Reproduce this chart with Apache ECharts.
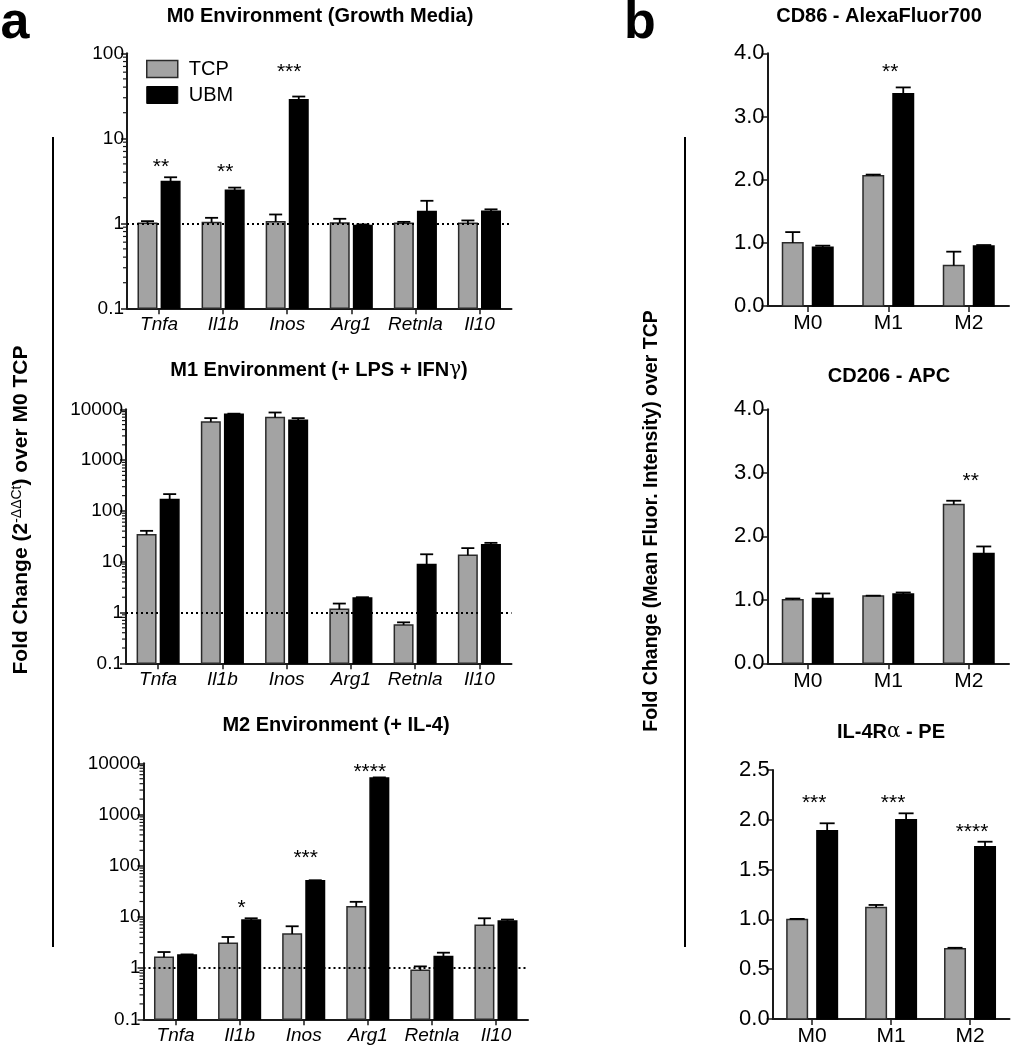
<!DOCTYPE html>
<html><head><meta charset="utf-8">
<script src="https://cdn.jsdelivr.net/npm/echarts@6/dist/echarts.min.js"></script>
<style>html,body{margin:0;padding:0;background:#fff}#c{width:1011px;height:1050px}</style>
</head><body><div id="c"></div>
<script>
// ---------- DATA ----------
const genes = ['Tnfa', 'Il1b', 'Inos', 'Arg1', 'Retnla', 'Il10'];
const states = ['M0', 'M1', 'M2'];
const groupNames = ['TCP', 'UBM'];

// Panel a – M0 environment (growth media)
const m0Tcp    = [1.0, 1.02, 1.04, 1.01, 1.0, 1.0];
const m0TcpErr = [1.06, 1.16, 1.27, 1.13, 1.04, 1.08];
const m0Ubm    = [3.1, 2.44, 28.5, 0.94, 1.38, 1.39];
const m0UbmErr = [3.48, 2.63, 31, 0.97, 1.84, 1.46];
const m0Sig    = ['**', '**', '***', '', '', ''];
const m0SigAt  = [5.4, 4.6, 70, null, null, null];

// Panel a – M1 environment (+LPS +IFNγ)
const m1Tcp    = [34, 5650, 6900, 1.16, 0.57, 13.4];
const m1TcpErr = [40.5, 6700, 8650, 1.5, 0.64, 18.5];
const m1Ubm    = [167, 8000, 6100, 1.94, 8.8, 21.5];
const m1UbmErr = [214, 8200, 6700, 2.0, 14, 23.5];
const m1Sig    = ['', '', '', '', '', ''];
const m1SigAt  = [null, null, null, null, null, null];

// Panel a – M2 environment (+IL-4)
const m2Tcp    = [1.62, 3.05, 4.64, 15.7, 0.91, 6.87];
const m2TcpErr = [2.06, 4.05, 6.56, 19.7, 1.08, 9.4];
const m2Ubm    = [1.80, 8.73, 50.8, 5150, 1.69, 8.35];
const m2UbmErr = [1.85, 9.4, 52, 5300, 2.0, 8.87];
const m2Sig    = ['', '*', '***', '****', '', ''];
const m2SigAt  = [null, 18.9, 180, 8500, null, null];

// Panel b – CD86
const cd86Tcp    = [1.0, 2.06, 0.64];
const cd86TcpErr = [1.17, 2.08, 0.86];
const cd86Ubm    = [0.93, 3.36, 0.95];
const cd86UbmErr = [0.955, 3.46, 0.965];
const cd86Sig    = ['', '**', ''];
const cd86SigAt  = [null, 3.79, null];

// Panel b – CD206
const cd206Tcp    = [1.0, 1.06, 2.5];
const cd206TcpErr = [1.02, 1.065, 2.56];
const cd206Ubm    = [1.02, 1.09, 1.73];
const cd206UbmErr = [1.10, 1.115, 1.84];
const cd206Sig    = ['', '', '**'];
const cd206SigAt  = [null, null, 2.95];

// Panel b – IL-4Rα
const il4Tcp    = [1.0, 1.12, 0.705];
const il4TcpErr = [1.005, 1.145, 0.715];
const il4Ubm    = [1.89, 2.0, 1.73];
const il4UbmErr = [1.965, 2.065, 1.78];
const il4Sig    = ['***', '***', '****'];
const il4SigAt  = [2.22, 2.22, 1.93];

// Tick labels
const logTicksSmall = ['0.1', '1', '10', '100'];
const logTicksLarge = ['0.1', '1', '10', '100', '1000', '10000'];
const mfiTicks4  = ['0.0', '1.0', '2.0', '3.0', '4.0'];
const mfiTicks25 = ['0.0', '0.5', '1.0', '1.5', '2.0', '2.5'];
const logMinorMultipliers = [2, 3, 4, 5, 6, 7, 8, 9];

// ---------- STYLE ----------
const FONT = '"Liberation Sans", Arial, Helvetica, sans-serif';
const GRAY = '#a3a3a3';
const EDGE = '#2a2a2a';
const AXIS = '#1a1a1a';
const geomA = { bw: 18.5, gap: 4.6, cap: 6.5, sigFont: 21 };
const geomB = { bw: 20.5, gap: 9.5, cap: 7.5, sigFont: 21 };

function barSeries(gi, vals, name, fill, stroke, side, g) {
  return {
    type: 'custom', name, xAxisIndex: gi, yAxisIndex: gi, z: 3, silent: true,
    itemStyle: { color: fill },
    data: vals.map((v, i) => [i, v]),
    renderItem(params, api) {
      const cs = params.coordSys;
      const p = api.coord([api.value(0), api.value(1)]);
      const cx = p[0] + side * (g.bw + g.gap) / 2;
      const bottom = cs.y + cs.height;
      return { type: 'rect',
        shape: { x: cx - g.bw / 2, y: p[1], width: g.bw, height: bottom - p[1] },
        style: { fill, stroke, lineWidth: 1.5 } };
    }
  };
}
function errSeries(gi, vals, errs, side, g) {
  return {
    type: 'custom', xAxisIndex: gi, yAxisIndex: gi, z: 4, silent: true,
    data: vals.map((v, i) => [i, v, errs[i]]),
    renderItem(params, api) {
      const i = api.value(0);
      const p0 = api.coord([i, api.value(1)]);
      const p1 = api.coord([i, api.value(2)]);
      const x = p0[0] + side * (g.bw + g.gap) / 2;
      const st = { stroke: '#000', lineWidth: 1.8 };
      return { type: 'group', children: [
        { type: 'line', shape: { x1: x, y1: p0[1], x2: x, y2: p1[1] }, style: st },
        { type: 'line', shape: { x1: x - g.cap, y1: p1[1], x2: x + g.cap, y2: p1[1] }, style: st }
      ] };
    }
  };
}
function sigSeries(gi, sig, sigAt, g) {
  const items = [];
  sig.forEach((s, i) => { if (s) items.push({ i, at: sigAt[i], text: s }); });
  return {
    type: 'custom', xAxisIndex: gi, yAxisIndex: gi, z: 5, silent: true,
    data: items.map(d => [d.i, d.at]),
    renderItem(params, api) {
      const p = api.coord([api.value(0), api.value(1)]);
      return { type: 'text', x: p[0] + 2, y: p[1] + 0.27 * g.sigFont,
        style: { text: items[params.dataIndex].text, fill: '#000',
          font: g.sigFont + 'px ' + FONT, align: 'center', verticalAlign: 'middle' } };
    }
  };
}
function minorTickSeries(gi, fromExp, toExp, withRefLine) {
  const vals = [];
  for (let e = fromExp; e < toExp; e++) logMinorMultipliers.forEach(m => vals.push(m * Math.pow(10, e)));
  const s = {
    type: 'custom', xAxisIndex: gi, yAxisIndex: gi, z: 1, silent: true,
    data: vals.map(v => [0, v]),
    renderItem(params, api) {
      const cs = params.coordSys;
      const y = api.coord([0, api.value(1)])[1];
      return { type: 'line', shape: { x1: cs.x - 4, y1: y, x2: cs.x, y2: y },
        style: { stroke: AXIS, lineWidth: 1.2 } };
    }
  };
  if (withRefLine) {
    s.markLine = { silent: true, symbol: 'none', label: { show: false }, animation: false,
      lineStyle: { type: [2, 3], color: '#000', width: 2.2, cap: 'butt' },
      data: [{ yAxis: 1 }] };
  }
  return s;
}
function panel(gi, tcp, tcpErr, ubm, ubmErr, sig, sigAt, g) {
  return [
    barSeries(gi, tcp, groupNames[0], GRAY, EDGE, -1, g),
    barSeries(gi, ubm, groupNames[1], '#000', '#000', 1, g),
    errSeries(gi, tcp, tcpErr, -1, g),
    errSeries(gi, ubm, ubmErr, 1, g),
    sigSeries(gi, sig, sigAt, g)
  ];
}

function xAxisCfg(gi, cats, italic, fontSize) {
  return { gridIndex: gi, type: 'category', data: cats, boundaryGap: true,
    axisLine: { show: true, lineStyle: { color: AXIS, width: 2 } },
    axisTick: { show: true, alignWithLabel: true, length: 6, lineStyle: { color: AXIS, width: 1.5 } },
    axisLabel: { color: '#000', fontSize, fontFamily: FONT, fontStyle: italic ? 'italic' : 'normal',
      margin: 7, interval: 0, hideOverlap: false },
    splitLine: { show: false } };
}
function logYAxis(gi, max, labels) {
  return { gridIndex: gi, type: 'log', logBase: 10, min: 0.1, max,
    axisLine: { show: true, lineStyle: { color: AXIS, width: 2 } },
    axisTick: { show: true, length: 6, lineStyle: { color: AXIS, width: 1.5 } },
    axisLabel: { color: '#000', fontSize: 19, fontFamily: FONT, margin: 3,
      formatter: v => labels[Math.round(Math.log10(v)) + 1] },
    splitLine: { show: false } };
}
function valYAxis(gi, max, interval, labels) {
  return { gridIndex: gi, type: 'value', min: 0, max, interval,
    axisLine: { show: true, lineStyle: { color: AXIS, width: 2 } },
    axisTick: { show: true, length: 6, lineStyle: { color: AXIS, width: 1.5 } },
    axisLabel: { color: '#000', fontSize: 22, fontFamily: FONT, margin: 3,
      formatter: v => labels[Math.round(v / interval)] },
    splitLine: { show: false } };
}

const grids = [
  { left: 127, top: 53.3, width: 384.5, height: 255 },
  { left: 126, top: 409.3, width: 385.5, height: 254 },
  { left: 143.5, top: 763.3, width: 384.5, height: 256 },
  { left: 767.5, top: 53.3, width: 241.5, height: 252.7 },
  { left: 767.5, top: 409.3, width: 241.5, height: 254 },
  { left: 772.7, top: 770, width: 236.8, height: 249 }
];

function txt(x, y, text, size, extra) {
  return Object.assign({ type: 'text', x, y, silent: true,
    style: { text, fill: '#000', font: 'bold ' + size + 'px ' + FONT, align: 'center', verticalAlign: 'middle' } }, extra || {});
}

const option = {
  animation: false,
  backgroundColor: '#fff',
  grid: grids,
  xAxis: [
    xAxisCfg(0, genes, true, 19), xAxisCfg(1, genes, true, 19), xAxisCfg(2, genes, true, 19),
    xAxisCfg(3, states, false, 21), xAxisCfg(4, states, false, 21), xAxisCfg(5, states, false, 21)
  ],
  yAxis: [
    logYAxis(0, 100, logTicksSmall), logYAxis(1, 10000, logTicksLarge), logYAxis(2, 10000, logTicksLarge),
    valYAxis(3, 4, 1, mfiTicks4), valYAxis(4, 4, 1, mfiTicks4), valYAxis(5, 2.5, 0.5, mfiTicks25)
  ],
  legend: {
    orient: 'vertical', left: 146, top: 59, padding: 0, itemWidth: 31, itemHeight: 17, itemGap: 6,
    selectedMode: false,
    textStyle: { fontSize: 20, color: '#000', fontFamily: FONT, padding: [0, 0, 0, 6] },
    data: [
      { name: groupNames[0], icon: 'rect', itemStyle: { color: GRAY, borderColor: EDGE, borderWidth: 1.5 } },
      { name: groupNames[1], icon: 'rect', itemStyle: { color: '#000', borderColor: '#000', borderWidth: 1 } }
    ]
  },
  series: [].concat(
    minorTickSeries(0, -1, 2, true),
    minorTickSeries(1, -1, 4, true),
    minorTickSeries(2, -1, 4, true),
    panel(0, m0Tcp, m0TcpErr, m0Ubm, m0UbmErr, m0Sig, m0SigAt, geomA),
    panel(1, m1Tcp, m1TcpErr, m1Ubm, m1UbmErr, m1Sig, m1SigAt, geomA),
    panel(2, m2Tcp, m2TcpErr, m2Ubm, m2UbmErr, m2Sig, m2SigAt, geomA),
    panel(3, cd86Tcp, cd86TcpErr, cd86Ubm, cd86UbmErr, cd86Sig, cd86SigAt, geomB),
    panel(4, cd206Tcp, cd206TcpErr, cd206Ubm, cd206UbmErr, cd206Sig, cd206SigAt, geomB),
    panel(5, il4Tcp, il4TcpErr, il4Ubm, il4UbmErr, il4Sig, il4SigAt, geomB)
  ),
  graphic: [
    txt(15, 24, 'a', 52),
    txt(640, 24, 'b', 52),
    txt(320, 16, 'M0 Environment (Growth Media)', 20),
    { type: 'text', x: 319, y: 370, silent: true,
      style: { text: 'M1 Environment (+ LPS + IFN{g|γ})', fill: '#000', font: 'bold 20px ' + FONT,
        align: 'center', verticalAlign: 'middle',
        rich: { g: { fontSize: 20, fontWeight: 'normal', fontFamily: 'DejaVu Serif' } } } },
    txt(336, 725, 'M2 Environment (+ IL-4)', 20),
    txt(879, 16, 'CD86 - AlexaFluor700', 20),
    txt(889, 376, 'CD206 - APC', 20),
    { type: 'text', x: 891, y: 732, silent: true,
      style: { text: 'IL-4R{g|α} - PE', fill: '#000', font: 'bold 20px ' + FONT,
        align: 'center', verticalAlign: 'middle',
        rich: { g: { fontSize: 20, fontWeight: 'normal', fontFamily: 'DejaVu Serif' } } } },
    { type: 'text', x: 21, y: 510, rotation: Math.PI / 2, silent: true,
      style: { text: 'Fold Change (2{s|-ΔΔCt}) over M0 TCP', fill: '#000', font: 'bold 21px ' + FONT,
        align: 'center', verticalAlign: 'middle',
        rich: { s: { fontSize: 14, fontWeight: 'normal', verticalAlign: 'top', fontFamily: FONT } } } },
    { type: 'text', x: 652, y: 521, rotation: Math.PI / 2, silent: true,
      style: { text: 'Fold Change (Mean Fluor. Intensity) over TCP', fill: '#000', font: 'bold 19.5px ' + FONT,
        align: 'center', verticalAlign: 'middle' } },
    { type: 'line', silent: true, shape: { x1: 53, y1: 137, x2: 53, y2: 947 }, style: { stroke: '#000', lineWidth: 2 } },
    { type: 'line', silent: true, shape: { x1: 685, y1: 137, x2: 685, y2: 947 }, style: { stroke: '#000', lineWidth: 2 } }
  ]
};

const chart = echarts.init(document.getElementById('c'), null, { renderer: 'canvas' });
chart.setOption(option);
</script>
</body></html>
